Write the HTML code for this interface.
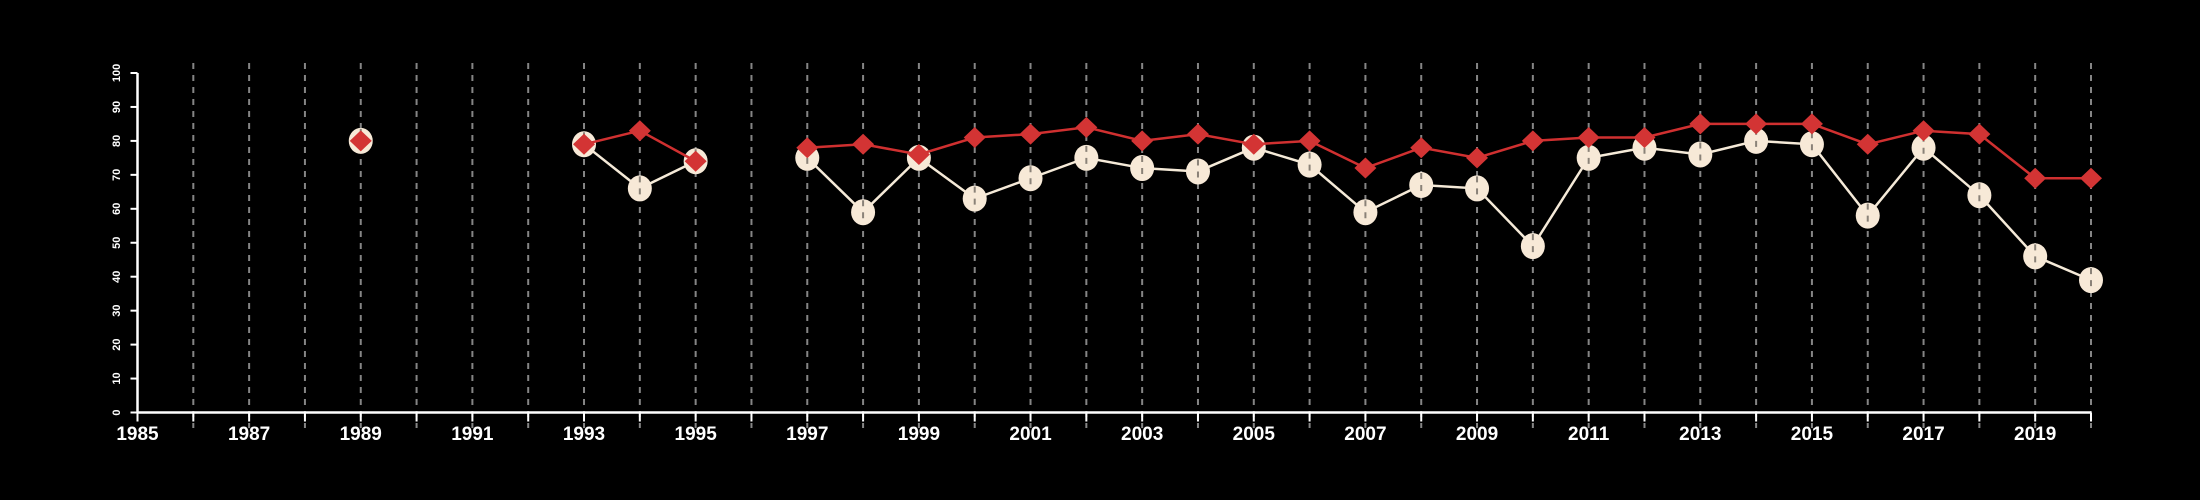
<!DOCTYPE html>
<html><head><meta charset="utf-8"><style>
html,body{margin:0;padding:0;background:#000;}
svg{display:block;}
</style></head><body>
<svg id="chart" width="2200" height="500" viewBox="0 0 2200 500" xmlns="http://www.w3.org/2000/svg">
<rect width="2200" height="500" fill="#000"/>
<g id="grid"></g><g id="axes"></g><g id="series"></g>
</svg>
<script>
const years = [1989,1990,1991,1992,1993,1994,1995,1996,1997,1998,1999,2000,2001,2002,2003,2004,2005,2006,2007,2008,2009,2010,2011,2012,2013,2014,2015,2016,2017,2018,2019,2020];
const whiteSeries = [80,null,null,null,79,66,74,null,75,59,75,63,69,75,72,71,78,73,59,67,66,49,75,78,76,80,79,58,78,64,46,39];
const redSeries = [80,null,null,null,79,83,74,null,78,79,76,81,82,84,80,82,79,80,72,78,75,80,81,81,85,85,85,79,83,82,69,69];
const yTicks = [0,10,20,30,40,50,60,70,80,90,100];
const xLabelYears = [1985,1987,1989,1991,1993,1995,1997,1999,2001,2003,2005,2007,2009,2011,2013,2015,2017,2019];

const NS="http://www.w3.org/2000/svg";
const X0=137.5,X1=2091,Y0=412.5,Y1=73;
const xs=y=>X0+(y-1985)/(2020-1985)*(X1-X0);
const ys=v=>Y0-(v/100)*(Y0-Y1);
function mk(tag,attrs,parent){const e=document.createElementNS(NS,tag);for(const k in attrs)e.setAttribute(k,attrs[k]);parent.appendChild(e);return e;}
const grid=document.getElementById('grid'),axes=document.getElementById('axes'),series=document.getElementById('series');

let ax=mk('line',{x1:X0,y1:Y0,x2:X1,y2:Y0,stroke:'#fff','stroke-width':2.5},axes);

let ay=mk('line',{x1:X0,y1:Y0,x2:X0,y2:Y1,stroke:'#fff','stroke-width':2.5},axes);

for(const t of yTicks){
  const y=ys(t);
  mk('line',{x1:X0-7,y1:y,x2:X0,y2:y,stroke:'#fff','stroke-width':2},axes);
  const tx=mk('text',{x:0,y:0,transform:`translate(120,${y}) rotate(-90)`,'text-anchor':'middle','font-family':'Liberation Sans, sans-serif','font-size':11,'font-weight':'bold',fill:'#fff'},axes);
  tx.textContent=t;
  
  
}
for(let yr=1985;yr<=2020;yr++){
  const x=xs(yr);
  mk('line',{x1:x,y1:Y0,x2:x,y2:Y0+9,stroke:'#fff','stroke-width':2},axes);
  if(yr>1985){
    const g=mk('line',{x1:x,y1:63,x2:x,y2:428,stroke:'#858585','stroke-width':2,'stroke-dasharray':'6,6'},grid);
    
    
  }
}
for(const yr of xLabelYears){
  const t=mk('text',{x:xs(yr),y:440,'text-anchor':'middle','font-family':'Liberation Sans, sans-serif','font-size':19,'font-weight':'bold',fill:'#fff'},axes);
  t.textContent=yr;
  
  
}
function segs(vals){const out=[];let cur=[];vals.forEach((v,i)=>{if(v==null){if(cur.length)out.push(cur);cur=[];}else cur.push([xs(years[i]),ys(v)]);});if(cur.length)out.push(cur);return out;}
for(const s of segs(whiteSeries)){
  if(s.length<2)continue;
  const p=mk('polyline',{points:s.map(q=>q.join(',')).join(' '),fill:'none',stroke:'#f5ead8','stroke-width':2.5},series);
  
  
}
whiteSeries.forEach((v,i)=>{if(v==null)return;
  const c=mk('ellipse',{cx:xs(years[i]),cy:ys(v),rx:12,ry:13,fill:'#f7e9d7'},series);
  
  
  mk('line',{x1:xs(years[i]),y1:ys(v)-12,x2:xs(years[i]),y2:ys(v)+12,stroke:'#8a8278','stroke-width':2,'stroke-dasharray':'6,6'},series);
});
for(const s of segs(redSeries)){
  if(s.length<2)continue;
  const p=mk('polyline',{points:s.map(q=>q.join(',')).join(' '),fill:'none',stroke:'#d03030','stroke-width':2.5},series);
  
  
}
redSeries.forEach((v,i)=>{if(v==null)return;
  const x=xs(years[i]),y=ys(v);
  const d=mk('polygon',{points:`${x},${y-10.5} ${x+11},${y} ${x},${y+10.5} ${x-11},${y}`,fill:'#d33434'},series);
  
  
});
</script>
</body></html>
